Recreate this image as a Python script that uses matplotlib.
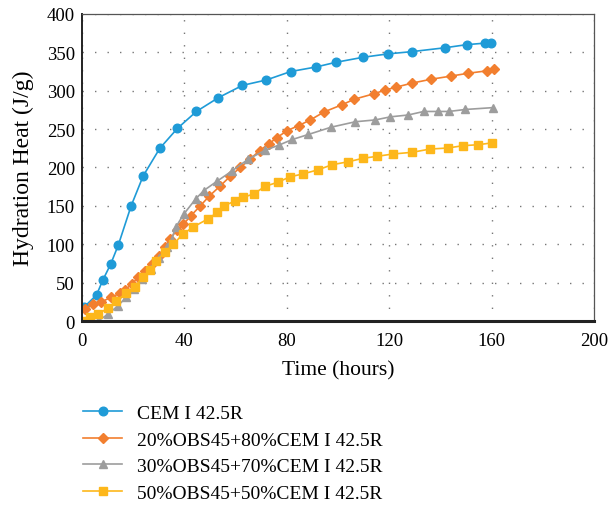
import matplotlib
matplotlib.use("Agg")
import matplotlib.pyplot as plt

plt.rcParams['font.family'] = ['Liberation Serif', 'DejaVu Serif']

labels = ["CEM I 42.5R", "20%OBS45+80%CEM I 42.5R",
          "30%OBS45+70%CEM I 42.5R", "50%OBS45+50%CEM I 42.5R"]

t_cem = [0.8, 5.7, 8.1, 11.2, 14.2, 19.2, 23.9, 30.4, 37.3, 44.7, 53.3, 62.7,
         72.0, 81.5, 91.5, 99.1, 109.8, 119.5, 129.0, 141.8, 150.2, 157.3, 159.9]
q_cem = [18, 34, 53, 74, 99, 150, 189, 225, 251, 273, 291, 307,
         314, 325, 331, 337, 343.6, 348, 351, 356, 360, 362, 362]

t_20 = [1, 4.3, 7.6, 11.5, 14.7, 17, 19.4, 22, 24.6, 27.3, 29.9, 32.5, 34.4, 37,
        39.6, 42.5, 46.2, 49.8, 54, 57.9, 61.8, 65.7, 69.4, 72.9, 76.2, 80.1,
        84.6, 89.2, 94.7, 101.4, 106.4, 114, 118.5, 122.5, 129, 136.4, 144,
        150.7, 158.3, 161]
q_20 = [15.6, 22, 25, 31, 36, 41, 48, 57, 65.5, 74, 85, 96, 107, 118,
        126, 137, 150, 163, 176, 188.5, 200, 211, 222, 230.6, 239, 248,
        254.5, 262, 272.6, 281.5, 289, 296, 301, 304.5, 310, 315, 319,
        322.7, 326, 328]

t_30 = [6.3, 10.2, 14.1, 17.3, 20.5, 23.5, 26.8, 30, 33.3, 35, 36.6, 39.7, 44.4,
        47.6, 52.7, 58.6, 65, 71.6, 76.8, 82.2, 88.4, 97.3, 106.8, 114.6, 120.5,
        127.4, 133.5, 139.2, 143.3, 149.8, 160.5]
q_30 = [0, 9, 20, 31, 42, 55, 68, 82, 96, 106, 122, 139, 159,
        170, 182, 195.5, 211, 222.5, 229, 236.5, 243, 252.5, 259.6, 262, 266,
        268.4, 273, 273, 273, 275.6, 278]

t_50 = [0.4, 3, 6.3, 10.2, 13.4, 17.3, 20.6, 23.9, 26.5, 29.1, 32.4, 35.6, 39.4,
        43.2, 49.2, 52.9, 55.3, 59.6, 62.9, 67, 71.6, 76.4, 81.4, 86.2, 92.2,
        97.7, 104, 109.8, 115.3, 121.5, 129, 135.9, 142.9, 148.8, 154.8, 160]
q_50 = [0, 5, 9, 17, 26.5, 36, 44.7, 57, 66.5, 78.6, 89.5, 100, 113,
        122, 133, 141.6, 150, 156, 161, 165.5, 175.5, 180.7, 188, 191.5, 197,
        203.6, 207.5, 212, 214.6, 217.6, 219.8, 224, 225.4, 228.4, 229.7, 232]

fig = plt.figure(figsize=(6.09, 5.06), dpi=100)
ax = fig.add_axes([0.1346, 0.3636, 0.8408, 0.6068])

styles = [
    (t_cem, q_cem, '#1f9bd7', 'o', 6.2),
    (t_20, q_20, '#f27f2f', 'D', 4.8),
    (t_30, q_30, '#9d9d9d', '^', 6.2),
    (t_50, q_50, '#fdb71b', 's', 6.0),
]
for (t, q, c, m, ms), lab in zip(styles, labels):
    ax.plot(t, q, color=c, marker=m, markersize=ms, linewidth=1.2,
            markeredgecolor=c, label=lab)

ax.set_xlim(0, 200)
ax.set_ylim(0, 400)
ax.set_xticks([0, 40, 80, 120, 160, 200])
ax.set_yticks(range(0, 401, 50))
ax.tick_params(length=0, labelsize=13.5)
ax.tick_params(axis='x', pad=8)
ax.tick_params(axis='y', pad=5)
ax.grid(True, color='#777777', linestyle=(0, (1, 8)), linewidth=1.0)
ax.set_axisbelow(True)
for s in ['top', 'right']:
    ax.spines[s].set_color('#555555')
    ax.spines[s].set_linewidth(0.9)
ax.spines['left'].set_color('#222222')
ax.spines['left'].set_linewidth(1.4)
ax.spines['bottom'].set_color('#222222')
ax.spines['bottom'].set_linewidth(2.2)

ax.set_xlabel('Time (hours)', fontsize=15.5, labelpad=8)
ax.set_ylabel('Hydration Heat (J/g)', fontsize=17, labelpad=9)

handles, labs = ax.get_legend_handles_labels()
fig.legend(handles, labs, loc='upper left', bbox_to_anchor=(0.124, 0.214),
           frameon=False, fontsize=14, handlelength=2.0, handletextpad=0.75,
           labelspacing=0.46, borderaxespad=0)

fig.savefig('out.png', dpi=100)
